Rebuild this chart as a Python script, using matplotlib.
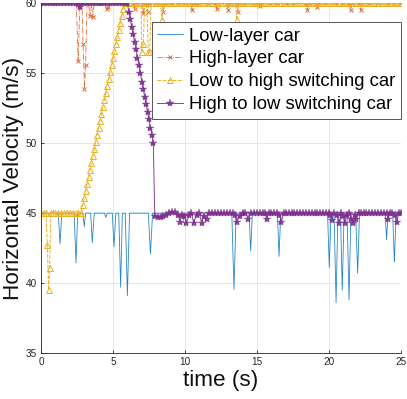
import matplotlib
matplotlib.use("Agg")
import matplotlib.pyplot as plt

# Low-layer car: (time s, velocity m/s)
low_layer = [
    (0.0, 45), (1.2, 45), (1.32, 42.8), (1.45, 45), (2.3, 45), (2.43, 41.45), (2.55, 45),
    (2.9, 45), (3.0, 44.05), (3.1, 45), (3.45, 45), (3.56, 42.9), (3.7, 45),
    (4.4, 45), (4.5, 44.7), (4.6, 45), (4.95, 45), (5.07, 42.6), (5.2, 45),
    (5.4, 45), (5.53, 39.7), (5.65, 45), (5.85, 45), (6.0, 39.1), (6.15, 45),
    (7.45, 45), (7.6, 42.1), (7.75, 45), (9.8, 45), (9.9, 44.5), (10.0, 45),
    (13.25, 45), (13.4, 39.55), (13.55, 45), (14.45, 45), (14.56, 42.3), (14.68, 45),
    (16.42, 45), (16.53, 41.9), (16.65, 45), (19.9, 45), (20.02, 41.1), (20.14, 45),
    (20.35, 45), (20.49, 38.6), (20.62, 45), (20.8, 45), (20.92, 39.5), (21.05, 45),
    (21.25, 45), (21.39, 38.8), (21.52, 45), (21.85, 45), (21.99, 40.7), (22.12, 45),
    (23.9, 45), (24.0, 43.1), (24.1, 45), (24.42, 45), (24.54, 41.5), (24.66, 45),
    (25.0, 45),
]

# High-layer car
high_layer = [
    (0.0, 60), (0.5, 60), (1.0, 60), (1.5, 60), (2.0, 60), (2.45, 60), (2.58, 55.9),
    (2.7, 60), (2.85, 60), (2.92, 57.1), (3.02, 53.9), (3.1, 55.6), (3.2, 60),
    (3.3, 60), (3.4, 59.1), (3.5, 60), (3.6, 59.0), (3.7, 60), (4.0, 60), (4.4, 60),
    (4.55, 59.6), (4.65, 59.7), (4.8, 60), (5.2, 60), (5.6, 60), (6.0, 60), (6.4, 60),
    (6.5, 59.6), (6.6, 60), (7.0, 60), (7.1, 59.3), (7.2, 60), (7.3, 60), (7.4, 59.4),
    (7.5, 60), (8.0, 60), (8.4, 60), (8.5, 59.4), (8.6, 60), (9.0, 60), (9.5, 60),
    (10.0, 60), (10.4, 60), (10.5, 59.5), (10.6, 60), (11.0, 60), (11.5, 60),
    (12.1, 60), (12.2, 59.6), (12.3, 60), (12.9, 60), (13.0, 59.5), (13.1, 60),
    (13.55, 60), (13.66, 59.4), (13.75, 60), (14.2, 60), (14.7, 60), (15.1, 60),
    (15.2, 59.8), (15.3, 60), (15.8, 60), (16.4, 60), (17.0, 60), (17.6, 60),
    (18.4, 60), (18.5, 59.5), (18.6, 60), (19.1, 60), (19.2, 59.7), (19.3, 60),
    (19.8, 60), (20.4, 60), (21.0, 60), (21.4, 60), (21.5, 59.5), (21.6, 60),
    (22.1, 60), (22.2, 59.5), (22.3, 60), (22.8, 60), (23.4, 60), (24.0, 60),
    (24.5, 60), (25.0, 60),
]

# Low to high switching car
low_to_high = [
    (0.0, 45), (0.2, 45), (0.35, 45), (0.44, 42.7), (0.53, 39.5), (0.6, 41.1),
    (0.68, 45), (0.8, 45), (1.0, 45), (1.2, 45), (1.4, 45), (1.6, 45), (1.8, 45),
    (2.0, 45), (2.2, 45), (2.4, 45), (2.6, 45), (2.8, 45),
    (2.9, 45.6), (3.0, 46.1), (3.1, 46.6), (3.2, 47.1), (3.3, 47.6), (3.4, 48.1),
    (3.5, 48.6), (3.6, 49.1), (3.7, 49.6), (3.8, 50.1), (3.9, 50.6), (4.0, 51.1),
    (4.1, 51.6), (4.2, 52.1), (4.3, 52.6), (4.4, 53.1), (4.5, 53.6), (4.6, 54.1),
    (4.7, 54.6), (4.8, 55.1), (4.9, 55.6), (5.0, 56.1), (5.1, 56.6), (5.2, 57.1),
    (5.3, 57.6), (5.4, 58.1), (5.5, 58.6), (5.6, 59.1), (5.7, 59.6), (5.8, 60),
    (6.0, 60), (6.2, 60), (6.4, 60), (6.6, 60), (6.8, 60), (6.95, 60), (7.0, 56.5),
    (7.1, 57.1), (7.2, 60), (7.35, 60), (7.45, 56.5), (7.55, 56.5), (7.65, 60),
    (7.8, 60), (8.0, 60), (8.2, 60), (8.3, 60), (8.4, 58.8), (8.5, 60), (8.7, 60),
    (8.9, 60), (9.1, 60), (9.3, 60), (9.5, 60), (9.7, 60), (9.9, 60), (10.1, 60),
    (10.3, 60), (10.5, 60), (10.7, 60), (10.9, 60), (11.1, 60), (11.3, 60),
    (11.5, 60), (11.7, 60), (11.9, 60), (12.1, 60), (12.3, 60), (12.5, 60),
    (12.7, 60), (12.9, 60), (13.1, 60), (13.3, 60), (13.5, 60), (13.6, 58.8),
    (13.7, 60), (13.9, 60), (14.1, 60), (14.3, 60), (14.5, 60), (14.7, 60),
    (14.9, 60), (15.1, 60), (15.3, 60), (15.5, 60), (15.7, 60), (15.9, 60),
    (16.1, 60), (16.3, 60), (16.5, 60), (16.7, 60), (16.9, 60), (17.1, 60),
    (17.3, 60), (17.5, 60), (17.7, 60), (17.9, 60), (18.1, 60), (18.3, 60),
    (18.5, 60), (18.7, 60), (18.9, 60), (19.1, 60), (19.3, 60), (19.5, 60),
    (19.7, 60), (19.9, 60), (20.1, 60), (20.3, 60), (20.5, 60), (20.7, 60),
    (20.9, 60), (21.1, 60), (21.3, 60), (21.5, 60), (21.7, 60), (21.9, 60),
    (22.1, 60), (22.3, 60), (22.5, 60), (22.7, 60), (22.9, 60), (23.1, 60),
    (23.3, 60), (23.5, 60), (23.7, 60), (23.9, 60), (24.1, 60), (24.3, 60),
    (24.5, 60), (24.7, 60), (24.9, 60), (25.0, 60),
]

# High to low switching car
high_to_low = [
    (0.0, 60), (0.2, 60), (0.4, 60), (0.6, 60), (0.8, 60), (1.0, 60), (1.2, 60),
    (1.4, 60), (1.6, 60), (1.8, 60), (2.0, 60), (2.2, 60), (2.4, 60), (2.6, 60),
    (2.7, 59.7), (2.8, 60), (3.0, 60), (3.2, 60), (3.4, 60), (3.6, 60), (3.8, 60),
    (4.0, 60), (4.2, 60), (4.4, 60), (4.6, 60), (4.8, 60), (5.0, 60), (5.2, 60),
    (5.4, 60), (5.6, 60), (5.8, 60), (6.0, 60),
    (6.1, 59.4), (6.2, 58.9), (6.3, 58.3), (6.4, 57.8), (6.5, 57.2), (6.6, 56.7),
    (6.7, 56.1), (6.8, 55.6), (6.9, 55.0), (7.0, 54.4), (7.1, 53.9), (7.2, 53.3),
    (7.3, 52.8), (7.4, 52.2), (7.5, 51.7), (7.6, 51.1), (7.7, 50.6), (7.8, 50.0),
    (7.9, 44.8), (8.1, 44.7), (8.3, 44.75), (8.5, 44.8), (8.7, 44.9), (8.9, 45.0),
    (9.1, 45.1), (9.3, 45.1), (9.5, 44.9), (9.65, 44.4), (9.8, 44.9), (9.95, 44.8),
    (10.1, 44.3), (10.3, 44.9), (10.45, 45.0), (10.6, 44.3), (10.8, 44.9),
    (11.0, 45.0), (11.15, 44.3), (11.3, 44.8), (11.5, 44.6), (11.7, 45.0),
    (11.9, 45.0), (12.1, 45.0), (12.3, 45.0), (12.5, 45.0), (12.7, 45.0),
    (12.9, 45.0), (13.1, 45.0), (13.3, 45.0), (13.45, 44.9), (13.6, 44.4),
    (13.8, 44.8), (14.0, 45.0), (14.2, 45.0), (14.4, 44.6), (14.6, 45.0),
    (14.8, 45.0), (15.0, 45.0), (15.2, 45.0), (15.4, 45.0), (15.55, 45.0),
    (15.67, 44.6), (15.8, 45.0), (16.0, 45.0), (16.2, 45.0), (16.4, 45.0),
    (16.55, 44.9), (16.7, 44.4), (16.85, 45.0), (17.0, 45.0), (17.2, 45.0),
    (17.4, 45.0), (17.6, 45.0), (17.8, 45.0), (18.0, 45.0), (18.2, 45.0),
    (18.4, 45.0), (18.6, 45.0), (18.8, 45.0), (19.0, 45.0), (19.2, 45.0),
    (19.4, 45.0), (19.6, 45.0), (19.8, 45.0), (20.0, 45.0), (20.1, 44.9),
    (20.2, 44.5), (20.35, 45.0), (20.55, 44.9), (20.7, 44.3), (20.85, 45.0),
    (21.0, 44.8), (21.1, 44.3), (21.25, 44.9), (21.4, 45.0), (21.55, 44.6),
    (21.65, 44.3), (21.8, 44.9), (21.9, 44.6), (22.05, 45.0), (22.2, 45.0),
    (22.4, 45.0), (22.6, 45.0), (22.8, 45.0), (23.0, 45.0), (23.2, 45.0),
    (23.4, 45.0), (23.6, 45.0), (23.8, 45.0), (24.0, 45.0), (24.1, 44.6),
    (24.25, 45.0), (24.4, 45.0), (24.55, 44.9), (24.7, 44.4), (24.85, 45.0),
    (25.0, 45.0),
]

labels = ['Low-layer car', 'High-layer car', 'Low to high switching car',
          'High to low switching car']

plt.rcParams['font.family'] = ['Liberation Sans', 'DejaVu Sans']
gray = '#262626'

fig = plt.figure(figsize=(4.07, 3.99), dpi=100)
ax = fig.add_axes([41 / 407, 1 - 353 / 399, 360 / 407, 349.7 / 399])

t, v = zip(*low_layer)
ax.plot(t, v, color='#0072BD', lw=0.6, alpha=0.85, label=labels[0])
t, v = zip(*high_layer)
ax.plot(t, v, color='#D95319', lw=0.6, ls='-.', marker='x', ms=3.5, mew=0.7,
        alpha=0.85, label=labels[1])
t, v = zip(*low_to_high)
ax.plot(t, v, color='#EDB120', lw=0.7, ls='--', marker='^', ms=4.5, mew=0.7,
        mfc='none', label=labels[2])
t, v = zip(*high_to_low)
ax.plot(t, v, color='#7E2F8E', lw=0.7, marker='*', ms=6, mew=0.3,
        alpha=0.9, label=labels[3])

ax.set_xlim(0, 25)
ax.set_ylim(35, 60)
ax.set_xticks([0, 5, 10, 15, 20, 25])
ax.set_yticks([35, 40, 45, 50, 55, 60])
ax.grid(True, color='#e3e3e3', lw=0.6)
ax.set_axisbelow(True)
for s in ['top', 'right']:
    ax.spines[s].set_visible(False)
for s in ['left', 'bottom']:
    ax.spines[s].set_color(gray)
    ax.spines[s].set_linewidth(0.6)
ax.tick_params(direction='in', length=2.5, width=0.6, colors=gray,
               labelsize=7.2, pad=3)

ax.set_xlabel('time (s)', fontsize=16.2, color='#111111', labelpad=2)
ax.set_ylabel('Horizontal Velocity (m/s)', fontsize=16.2, color='#111111',
              labelpad=1)

leg = ax.legend(loc='upper right', bbox_to_anchor=(0.999, 0.9465),
                borderaxespad=0, fontsize=13.3, handlelength=1.4,
                handletextpad=0.3, labelspacing=0.32, borderpad=0.3,
                fancybox=False, framealpha=1, edgecolor='#555555')
leg.get_frame().set_linewidth(0.7)

fig.savefig('out.png', dpi=100)
